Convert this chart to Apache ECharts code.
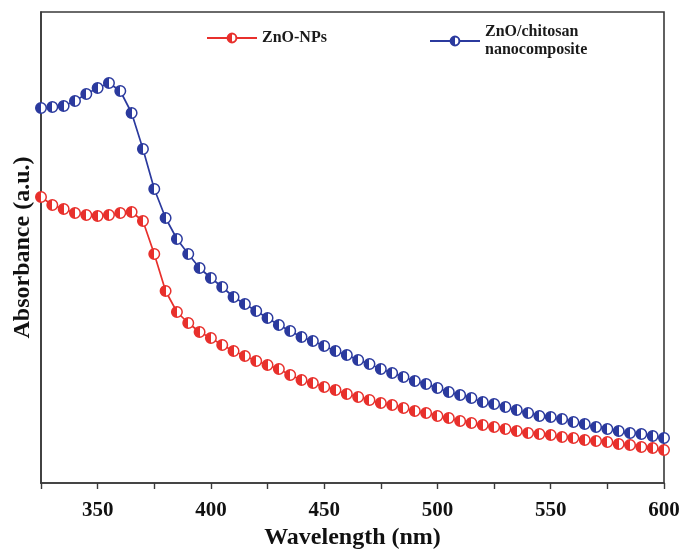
<!DOCTYPE html>
<html>
<head>
<meta charset="utf-8">
<script src="https://cdn.jsdelivr.net/npm/echarts@6/dist/echarts.min.js"></script>
<style>
  html, body { margin: 0; padding: 0; background: #fff; }
  #chart { width: 686px; height: 550px; }
</style>
</head>
<body>
<div id="chart"></div>
<script>
// Wavelength grid (nm), one reading every 5 nm
const wavelengths = [];
for (let w = 325; w <= 600; w += 5) wavelengths.push(w);

// Absorbance (arbitrary units)
const znoNps = [
  2.86, 2.78, 2.74, 2.70, 2.68, 2.67, 2.68, 2.70, 2.71, 2.62,
  2.29, 1.92, 1.71, 1.60, 1.51, 1.45, 1.38, 1.32, 1.27, 1.22,
  1.18, 1.14, 1.08, 1.03, 1.00, 0.96, 0.93, 0.89, 0.86, 0.83,
  0.80, 0.78, 0.75, 0.72, 0.70, 0.67, 0.65, 0.62, 0.60, 0.58,
  0.56, 0.54, 0.52, 0.50, 0.49, 0.48, 0.46, 0.45, 0.43, 0.42,
  0.41, 0.39, 0.38, 0.36, 0.35, 0.33
];
const znoChitosan = [
  3.75, 3.76, 3.77, 3.82, 3.89, 3.95, 4.00, 3.92, 3.70, 3.34,
  2.94, 2.65, 2.44, 2.29, 2.15, 2.05, 1.96, 1.86, 1.79, 1.72,
  1.65, 1.58, 1.52, 1.46, 1.42, 1.37, 1.32, 1.28, 1.23, 1.19,
  1.14, 1.10, 1.06, 1.02, 0.99, 0.95, 0.91, 0.88, 0.85, 0.81,
  0.79, 0.76, 0.73, 0.70, 0.67, 0.66, 0.64, 0.61, 0.59, 0.56,
  0.54, 0.52, 0.50, 0.49, 0.47, 0.45
];

const xTickLabels = [350, 400, 450, 500, 550, 600];
const seriesNames = ['ZnO-NPs', 'ZnO/chitosan\nnanocomposite'];
const seriesColors = ['#e8302c', '#2b3a9e'];

const FONT = '"Liberation Serif", "Times New Roman", serif';

// half-filled marker: left half coloured, right half white
function halfFill(color) {
  return {
    type: 'linear', x: 0, y: 0, x2: 1, y2: 0,
    colorStops: [
      { offset: 0, color: color },
      { offset: 0.5, color: color },
      { offset: 0.5, color: '#ffffff' },
      { offset: 1, color: '#ffffff' }
    ]
  };
}

function makeSeries(name, values, color) {
  return {
    name: name,
    type: 'line',
    data: wavelengths.map((w, i) => [w, values[i]]),
    symbol: 'circle',
    symbolSize: 10.5,
    showAllSymbol: true,
    lineStyle: { color: color, width: 1.7 },
    itemStyle: { color: halfFill(color), borderColor: color, borderWidth: 1.5 },
    emphasis: { disabled: true },
    z: 3
  };
}

const chart = echarts.init(document.getElementById('chart'), null, { renderer: 'canvas' });

const legendText = {
  fontFamily: FONT, fontWeight: 'bold', fontSize: 16, color: '#1a1a1a', lineHeight: 18
};

chart.setOption({
  backgroundColor: '#ffffff',
  animation: false,
  grid: {
    left: 41, right: 22, top: 12, bottom: 67,
    outerBoundsMode: 'none',
    show: true, borderColor: '#3a3a3a', borderWidth: 1.6
  },
  legend: [
    {
      data: [seriesNames[0]],
      left: 201, top: 24,
      itemWidth: 50, itemHeight: 11,
      textStyle: legendText
    },
    {
      data: [seriesNames[1]],
      left: 424, top: 18,
      itemWidth: 50, itemHeight: 11,
      textStyle: legendText
    }
  ],
  xAxis: {
    type: 'value',
    min: 325, max: 600, interval: 25,
    name: 'Wavelength (nm)',
    nameLocation: 'middle',
    nameGap: 42,
    nameTextStyle: { fontFamily: FONT, fontWeight: 'bold', fontSize: 24, color: '#111' },
    axisLine: { show: true, lineStyle: { color: '#3a3a3a', width: 1.6 } },
    axisTick: { show: true, inside: false, length: 6, lineStyle: { color: '#3a3a3a', width: 1.4 } },
    axisLabel: {
      margin: 17,
      fontFamily: FONT, fontWeight: 'bold', fontSize: 21, color: '#111',
      formatter: v => (xTickLabels.includes(v) ? String(v) : '')
    },
    splitLine: { show: false }
  },
  yAxis: {
    type: 'value',
    min: 0, max: 4.71,
    name: 'Absorbance (a.u.)',
    nameLocation: 'middle',
    nameGap: 6,
    nameRotate: 90,
    nameTextStyle: { fontFamily: FONT, fontWeight: 'bold', fontSize: 24, color: '#111' },
    axisLine: { show: true, lineStyle: { color: '#3a3a3a', width: 1.6 } },
    axisTick: { show: false },
    axisLabel: { show: false },
    splitLine: { show: false }
  },
  series: [
    makeSeries(seriesNames[0], znoNps, seriesColors[0]),
    makeSeries(seriesNames[1], znoChitosan, seriesColors[1])
  ]
});
</script>
</body>
</html>
